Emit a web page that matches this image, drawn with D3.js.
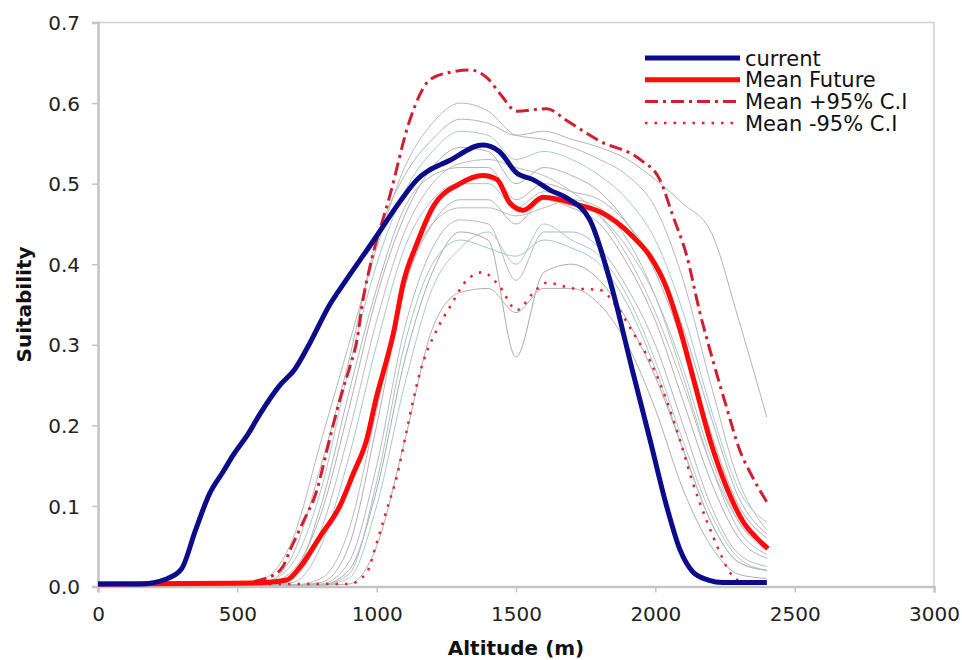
<!DOCTYPE html>
<html>
<head>
<meta charset="utf-8">
<script src="https://cdn.jsdelivr.net/npm/d3@7"></script>
<style>
  body { margin: 0; background: #fff; }
  svg { font-family: "DejaVu Sans", Verdana, sans-serif; }
</style>
</head>
<body>
<svg id="chart" width="962" height="660"></svg>
<script>
// current suitability curve
const currentAlt = [0, 150, 250, 300, 350, 400, 450, 485, 540, 581, 653, 707, 760, 832, 886, 950, 1000, 1084, 1145, 1263, 1381, 1440, 1503, 1561, 1622, 1683, 1765, 1837, 1920, 1981, 2041, 2088, 2135, 2190, 2243, 2400];
const currentVal = [0.003, 0.003, 0.01, 0.022, 0.07, 0.115, 0.143, 0.163, 0.19, 0.214, 0.25, 0.27, 0.302, 0.35, 0.378, 0.41, 0.435, 0.478, 0.505, 0.529, 0.548, 0.54, 0.513, 0.505, 0.492, 0.482, 0.455, 0.38, 0.265, 0.182, 0.099, 0.046, 0.018, 0.008, 0.005, 0.005];

// mean future
const meanAlt = [0, 485, 600, 677, 725, 797, 868, 916, 964, 1000, 1023, 1060, 1095, 1145, 1202, 1299, 1381, 1432, 1478, 1526, 1597, 1729, 1801, 1920, 1981, 2041, 2088, 2135, 2196, 2257, 2314, 2364, 2404];
const meanVal = [0.003, 0.004, 0.005, 0.008, 0.024, 0.062, 0.1, 0.14, 0.182, 0.236, 0.265, 0.314, 0.376, 0.426, 0.471, 0.5, 0.51, 0.505, 0.476, 0.467, 0.483, 0.473, 0.465, 0.434, 0.41, 0.37, 0.32, 0.26, 0.182, 0.122, 0.081, 0.06, 0.047];

// mean +95% C.I
const upAlt = [0, 500, 617, 664, 689, 736, 786, 822, 868, 904, 929, 951, 976, 1048, 1120, 1191, 1260, 1335, 1400, 1442, 1503, 1610, 1683, 1800, 1945, 2016, 2063, 2113, 2160, 2207, 2256, 2300, 2350, 2400];
const upVal = [0.003, 0.004, 0.012, 0.025, 0.045, 0.08, 0.12, 0.17, 0.232, 0.273, 0.305, 0.356, 0.397, 0.486, 0.58, 0.629, 0.638, 0.641, 0.63, 0.612, 0.59, 0.593, 0.578, 0.553, 0.53, 0.505, 0.46, 0.41, 0.34, 0.28, 0.222, 0.172, 0.135, 0.105];

// mean -95% C.I
const lowAlt = [0, 900, 964, 1000, 1036, 1072, 1108, 1131, 1155, 1215, 1263, 1323, 1381, 1442, 1503, 1561, 1610, 1704, 1801, 1862, 1920, 1991, 2088, 2135, 2185, 2232, 2261, 2296, 2400];
const lowVal = [0.003, 0.003, 0.017, 0.054, 0.095, 0.136, 0.194, 0.231, 0.265, 0.318, 0.347, 0.38, 0.39, 0.372, 0.343, 0.364, 0.377, 0.37, 0.368, 0.347, 0.315, 0.273, 0.182, 0.128, 0.081, 0.042, 0.021, 0.008, 0.004];

// individual scenario curves (thin grey)
const scenAlt = [0, 500, 600, 700, 800, 900, 1000, 1100, 1200, 1300, 1400, 1500, 1600, 1700, 1800, 1900, 2000, 2100, 2200, 2300, 2400];
const scen1 = [0.002, 0.002, 0.005, 0.04, 0.15, 0.28, 0.43, 0.51, 0.555, 0.58, 0.575, 0.56, 0.565, 0.555, 0.545, 0.53, 0.505, 0.475, 0.44, 0.33, 0.21];
const scen2 = [0.002, 0.002, 0.01, 0.06, 0.18, 0.30, 0.42, 0.52, 0.575, 0.60, 0.59, 0.56, 0.555, 0.545, 0.53, 0.51, 0.47, 0.38, 0.25, 0.13, 0.07];
const scen3 = [0.002, 0.002, 0.005, 0.03, 0.12, 0.27, 0.40, 0.49, 0.54, 0.565, 0.56, 0.53, 0.54, 0.53, 0.51, 0.48, 0.43, 0.34, 0.22, 0.12, 0.08];
const scen4 = [0.002, 0.002, 0.003, 0.02, 0.09, 0.22, 0.36, 0.46, 0.52, 0.545, 0.54, 0.50, 0.52, 0.51, 0.49, 0.45, 0.39, 0.30, 0.19, 0.10, 0.06];
const scen5 = [0.002, 0.002, 0.002, 0.01, 0.07, 0.19, 0.33, 0.44, 0.50, 0.525, 0.53, 0.52, 0.51, 0.49, 0.46, 0.41, 0.34, 0.25, 0.15, 0.08, 0.05];
const scen6 = [0.002, 0.002, 0.002, 0.005, 0.05, 0.16, 0.30, 0.42, 0.48, 0.50, 0.50, 0.47, 0.49, 0.48, 0.46, 0.42, 0.36, 0.27, 0.16, 0.08, 0.045];
const scen7 = [0.002, 0.002, 0.002, 0.002, 0.005, 0.05, 0.20, 0.37, 0.45, 0.48, 0.48, 0.45, 0.48, 0.47, 0.45, 0.40, 0.33, 0.23, 0.13, 0.06, 0.035];
const scen8 = [0.002, 0.002, 0.002, 0.002, 0.003, 0.03, 0.15, 0.32, 0.42, 0.455, 0.45, 0.38, 0.44, 0.44, 0.42, 0.37, 0.30, 0.20, 0.10, 0.04, 0.025];
const scen9 = [0.002, 0.002, 0.002, 0.002, 0.002, 0.02, 0.12, 0.28, 0.39, 0.44, 0.43, 0.285, 0.39, 0.40, 0.38, 0.33, 0.26, 0.17, 0.08, 0.03, 0.02];
const scen10 = [0.002, 0.002, 0.002, 0.002, 0.002, 0.01, 0.10, 0.25, 0.37, 0.42, 0.44, 0.40, 0.45, 0.43, 0.41, 0.36, 0.28, 0.18, 0.09, 0.035, 0.02];
const scen11 = [0.002, 0.002, 0.002, 0.002, 0.002, 0.003, 0.05, 0.18, 0.32, 0.365, 0.37, 0.34, 0.37, 0.37, 0.35, 0.30, 0.22, 0.12, 0.05, 0.015, 0.01];
const scen12 = [0.002, 0.002, 0.002, 0.002, 0.01, 0.07, 0.22, 0.38, 0.45, 0.47, 0.47, 0.46, 0.47, 0.48, 0.47, 0.43, 0.36, 0.26, 0.15, 0.07, 0.04];
const scen13 = [0.002, 0.002, 0.002, 0.015, 0.10, 0.24, 0.37, 0.47, 0.51, 0.52, 0.52, 0.48, 0.50, 0.49, 0.48, 0.45, 0.40, 0.32, 0.21, 0.11, 0.065];
const scen14 = [0.002, 0.002, 0.002, 0.002, 0.002, 0.015, 0.13, 0.30, 0.40, 0.43, 0.42, 0.41, 0.43, 0.42, 0.40, 0.35, 0.27, 0.17, 0.08, 0.03, 0.02];
const scenarios = [scen1, scen2, scen3, scen4, scen5, scen6, scen7, scen8, scen9, scen10, scen11, scen12, scen13, scen14];
const scenColors = ["#b4b4b4", "#b8b8b8", "#a8cccc", "#b0b0b0", "#bcbcbc", "#a8c8c8", "#b0b0b0", "#b8b8b8", "#aaaaaa", "#b0c8c8", "#b0b0b0", "#bbbbbb", "#b4b4b4", "#a8c4c4"];

const xTicks = [0, 500, 1000, 1500, 2000, 2500, 3000];
const yTicks = [0, 0.1, 0.2, 0.3, 0.4, 0.5, 0.6, 0.7];
const legendLabels = ["current", "Mean Future", "Mean +95% C.I", "Mean -95% C.I"];

const svg = d3.select("#chart");
const margin = { left: 98, right: 28, top: 22.5, bottom: 73.5 };
const W = 962, H = 660;

const x = d3.scaleLinear().domain([0, 3000]).range([margin.left, W - margin.right]);
const y = d3.scaleLinear().domain([0, 0.7]).range([H - margin.bottom, margin.top]);

// frame (top and right)
svg.append("path")
  .attr("d", `M${x(0)},${y(0.7)} H${x(3000)} V${y(0)}`)
  .attr("fill", "none")
  .attr("stroke", "#cfcfcf")
  .attr("stroke-width", 1.5);

const line = (xs) => d3.line()
  .x((d, i) => x(xs[i]))
  .y(d => y(d))
  .curve(d3.curveMonotoneX);

// grey scenario lines
scenarios.forEach((s, i) => {
  svg.append("path")
    .attr("d", line(scenAlt)(s))
    .attr("fill", "none")
    .attr("stroke", scenColors[i])
    .attr("stroke-width", 1);
});

// axes
const xAxis = svg.append("g")
  .attr("transform", `translate(0,${y(0)})`)
  .call(d3.axisBottom(x).tickValues(xTicks).tickSize(6).tickPadding(14).tickFormat(d3.format("d")));
const yAxis = svg.append("g")
  .attr("transform", `translate(${x(0)},0)`)
  .call(d3.axisLeft(y).tickValues(yTicks).tickSize(6).tickPadding(12).tickFormat(d3.format(".1f")));
[xAxis, yAxis].forEach(a => {
  a.select(".domain").attr("stroke", "#c4c4c4").attr("stroke-width", 2.5);
  a.selectAll(".tick line").attr("stroke", "#c4c4c4").attr("stroke-width", 1.5);
  a.selectAll(".tick text")
    .attr("fill", "#222")
    .style("font-size", "20px")
    .style("font-family", "'DejaVu Sans', Verdana, sans-serif");
});
yAxis.selectAll(".tick text").attr("dy", "0.36em");

// CI lines
svg.append("path")
  .attr("d", line(lowAlt)(lowVal))
  .attr("fill", "none")
  .attr("stroke", "#e8202a")
  .attr("stroke-width", 2.5)
  .attr("stroke-dasharray", "2.5,7");
svg.append("path")
  .attr("d", line(upAlt)(upVal))
  .attr("fill", "none")
  .attr("stroke", "#d02030")
  .attr("stroke-width", 3)
  .attr("stroke-dasharray", "13,5,3,5");

// main lines
svg.append("path")
  .attr("d", line(meanAlt)(meanVal))
  .attr("fill", "none")
  .attr("stroke", "#ff0a0a")
  .attr("stroke-width", 5)
  .attr("stroke-linejoin", "round");
svg.append("path")
  .attr("d", line(currentAlt)(currentVal))
  .attr("fill", "none")
  .attr("stroke", "#0c0c8a")
  .attr("stroke-width", 5)
  .attr("stroke-linejoin", "round");

// axis titles
svg.append("text")
  .attr("x", (x(0) + x(3000)) / 2)
  .attr("y", 655)
  .attr("text-anchor", "middle")
  .style("font-size", "20px")
  .style("font-weight", "bold")
  .attr("fill", "#111")
  .text("Altitude (m)");
svg.append("text")
  .attr("transform", `translate(31,${(y(0) + y(0.7)) / 2}) rotate(-90)`)
  .attr("text-anchor", "middle")
  .style("font-size", "20px")
  .style("font-weight", "bold")
  .attr("fill", "#111")
  .text("Suitability");

// legend
const legendStyles = [
  { stroke: "#0c0c8a", width: 5, dash: null },
  { stroke: "#ff0a0a", width: 5, dash: null },
  { stroke: "#d02030", width: 3, dash: "13,5,3,5" },
  { stroke: "#e8202a", width: 2.5, dash: "2.5,7" }
];
const leg = svg.append("g").attr("transform", "translate(645,58)");
legendLabels.forEach((lab, i) => {
  const st = legendStyles[i];
  const ly = i * 21.7;
  leg.append("line")
    .attr("x1", 0).attr("x2", 95)
    .attr("y1", ly).attr("y2", ly)
    .attr("stroke", st.stroke)
    .attr("stroke-width", st.width)
    .attr("stroke-dasharray", st.dash);
  leg.append("text")
    .attr("x", 100)
    .attr("y", ly)
    .attr("dy", "0.36em")
    .style("font-size", "21px")
    .attr("fill", "#111")
    .text(lab);
});
</script>
</body>
</html>
